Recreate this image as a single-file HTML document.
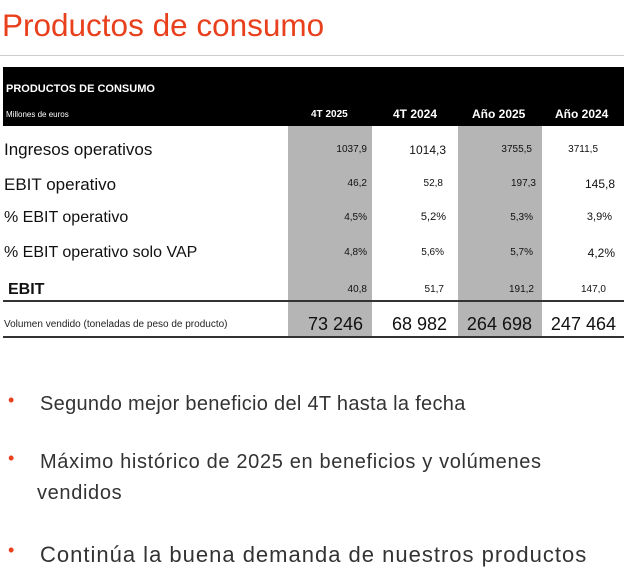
<!DOCTYPE html>
<html><head><style>
body{margin:0;width:624px;height:578px;background:#fff;position:relative;overflow:hidden;font-family:"Liberation Sans",sans-serif;color:#111}
.a{position:absolute;white-space:nowrap}
.n{text-align:right}
</style></head><body>
<div class="a" style="left:2px;top:7px;font-size:31.5px;color:#e8401c">Productos de consumo</div>
<div class="a" style="left:0;top:55px;width:624px;height:1px;background:#ccc"></div>
<div class="a" style="left:3px;top:67px;width:621px;height:59px;background:#000"></div>
<div class="a" style="left:6px;top:83px;font-size:11px;font-weight:bold;color:#fff">PRODUCTOS DE CONSUMO</div>
<div class="a" style="left:6px;top:110px;font-size:8px;color:#fff">Millones de euros</div>
<div class="a" style="left:311px;top:109px;font-size:10px;font-weight:bold;color:#fff">4T 2025</div>
<div class="a" style="left:393px;top:107px;font-size:12px;font-weight:bold;color:#fff">4T 2024</div>
<div class="a" style="left:472px;top:107px;font-size:12px;font-weight:bold;color:#fff">Año 2025</div>
<div class="a" style="left:555px;top:107px;font-size:12px;font-weight:bold;color:#fff">Año 2024</div>
<div class="a" style="left:288px;top:126px;width:84px;height:210px;background:#b5b5b5"></div>
<div class="a" style="left:458px;top:126px;width:84px;height:210px;background:#b5b5b5"></div>
<div class="a" style="left:3px;top:300px;width:621px;height:2px;background:#333"></div>
<div class="a" style="left:3px;top:336px;width:621px;height:2px;background:#333"></div>

<div class="a" style="left:4px;top:140px;font-size:17px">Ingresos operativos</div>
<div class="a" style="left:4px;top:175px;font-size:17px">EBIT operativo</div>
<div class="a" style="left:4px;top:209px;font-size:16px">% EBIT operativo</div>
<div class="a" style="left:4px;top:244px;font-size:16px">% EBIT operativo solo VAP</div>
<div class="a" style="left:8px;top:281px;font-size:16px;font-weight:bold">EBIT</div>
<div class="a" style="left:4px;top:319px;font-size:10px;color:#222">Volumen vendido (toneladas de peso de producto)</div>

<div class="a n" style="left:290px;width:77px;top:144px;font-size:10px">1037,9</div>
<div class="a n" style="left:380px;width:66px;top:143px;font-size:12px">1014,3</div>
<div class="a n" style="left:460px;width:72px;top:144px;font-size:10px">3755,5</div>
<div class="a n" style="left:540px;width:58px;top:144px;font-size:10px">3711,5</div>

<div class="a n" style="left:290px;width:77px;top:178px;font-size:10px">46,2</div>
<div class="a n" style="left:380px;width:63px;top:178px;font-size:10px">52,8</div>
<div class="a n" style="left:460px;width:76px;top:178px;font-size:10px">197,3</div>
<div class="a n" style="left:540px;width:75px;top:177px;font-size:12px">145,8</div>

<div class="a n" style="left:290px;width:77px;top:212px;font-size:10px">4,5%</div>
<div class="a n" style="left:380px;width:66px;top:211px;font-size:11px">5,2%</div>
<div class="a n" style="left:460px;width:73px;top:212px;font-size:10px">5,3%</div>
<div class="a n" style="left:540px;width:72px;top:211px;font-size:11px">3,9%</div>

<div class="a n" style="left:290px;width:77px;top:247px;font-size:10px">4,8%</div>
<div class="a n" style="left:380px;width:64px;top:247px;font-size:10px">5,6%</div>
<div class="a n" style="left:460px;width:73px;top:247px;font-size:10px">5,7%</div>
<div class="a n" style="left:540px;width:75px;top:246px;font-size:12px">4,2%</div>

<div class="a n" style="left:290px;width:77px;top:284px;font-size:10px">40,8</div>
<div class="a n" style="left:380px;width:64px;top:284px;font-size:10px">51,7</div>
<div class="a n" style="left:460px;width:74px;top:284px;font-size:10px">191,2</div>
<div class="a n" style="left:540px;width:66px;top:284px;font-size:10px">147,0</div>

<div class="a n" style="left:290px;width:73px;top:314px;font-size:18px">73 246</div>
<div class="a n" style="left:380px;width:67px;top:314px;font-size:18px">68 982</div>
<div class="a n" style="left:460px;width:72px;top:314px;font-size:18px">264 698</div>
<div class="a n" style="left:540px;width:76px;top:314px;font-size:18px">247 464</div>

<div class="a" style="left:8px;top:390px;font-size:18px;color:#e8401c">•</div>
<div class="a" style="left:40px;top:393px;font-size:20px;letter-spacing:0.3px;color:#333">Segundo mejor beneficio del 4T hasta la fecha</div>
<div class="a" style="left:8px;top:448px;font-size:18px;color:#e8401c">•</div>
<div class="a" style="left:40px;top:451px;font-size:20px;letter-spacing:0.65px;color:#333">Máximo histórico de 2025 en beneficios y volúmenes</div>
<div class="a" style="left:37px;top:482px;font-size:20px;letter-spacing:0.65px;color:#333">vendidos</div>
<div class="a" style="left:8px;top:540px;font-size:18px;color:#e8401c">•</div>
<div class="a" style="left:40px;top:542px;font-size:22px;letter-spacing:1px;color:#333">Continúa la buena demanda de nuestros productos</div>
</body></html>
